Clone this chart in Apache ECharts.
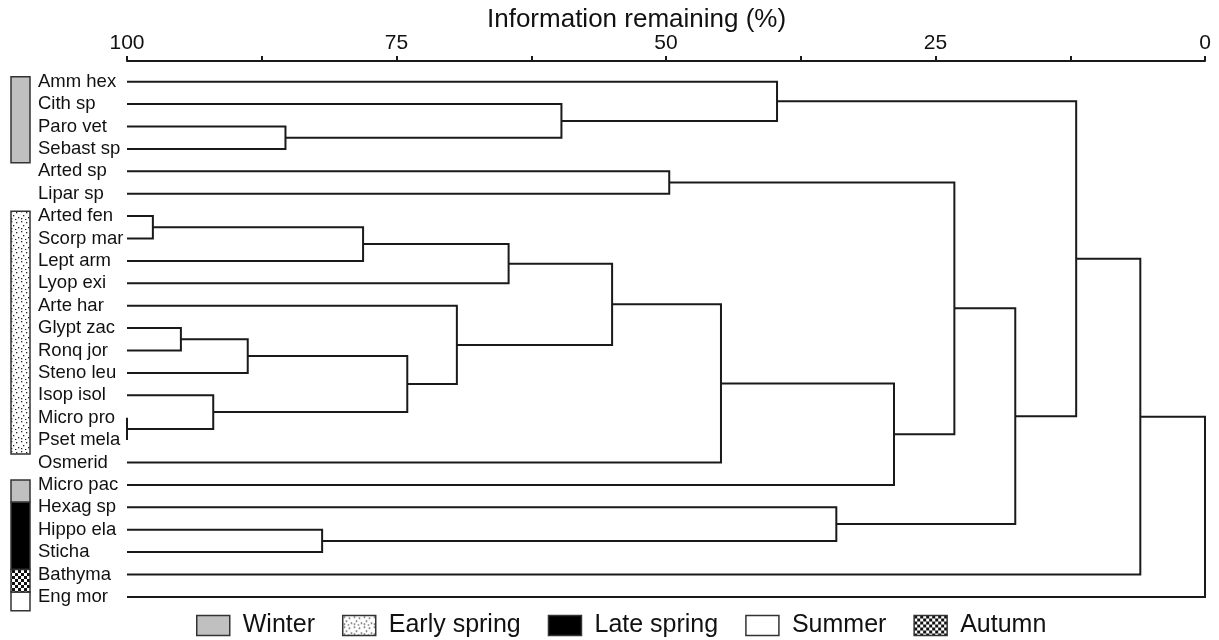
<!DOCTYPE html>
<html><head><meta charset="utf-8">
<script src="https://cdn.jsdelivr.net/npm/echarts@6/dist/echarts.min.js"></script>
<style>html,body{margin:0;padding:0;background:#fff}#chart{width:1219px;height:640px}</style>
</head><body><div id="chart"></div>
<script>
// ---- data ----
const leaves = ['Amm hex','Cith sp','Paro vet','Sebast sp','Arted sp','Lipar sp','Arted fen','Scorp mar','Lept arm','Lyop exi','Arte har','Glypt zac','Ronq jor','Steno leu','Isop isol','Micro pro','Pset mela','Osmerid','Micro pac','Hexag sp','Hippo ela','Sticha','Bathyma','Eng mor'];
const seasons = ['Winter','Winter','Winter','Winter',null,null,
  'Early spring','Early spring','Early spring','Early spring','Early spring','Early spring','Early spring','Early spring','Early spring','Early spring','Early spring',
  null,'Winter','Late spring','Late spring','Late spring','Autumn','Summer'];
const seasonNames = ['Winter','Early spring','Late spring','Summer','Autumn'];
// merge k creates node 'm'+(k+1)
const mergeLeft  = ['Paro vet','Cith sp','Amm hex','Arted sp','Arted fen','m5','m6','Glypt zac','m8','Micro pro','Isop isol','m9','Arte har','m7','m14','m15','m4','Hippo ela','Hexag sp','m17','m3','m21','m22'];
const mergeRight = ['Sebast sp','m1','m2','Lipar sp','Scorp mar','Lept arm','Lyop exi','Ronq jor','Steno leu','Pset mela','m10','m11','m12','m13','Osmerid','Micro pac','m16','Sticha','m18','m19','m20','Bathyma','Eng mor'];
const mergeHeight = [85.3,59.7,39.7,49.7,97.6,78.1,64.6,95.0,88.8,100,92.0,74.0,69.4,55.0,44.9,28.85,23.25,81.9,34.2,17.6,11.95,6.0,0];
const axisTicks = [100,75,50,25,0];

// ---- build links ----
const pos = {};
leaves.forEach((n,i)=>{ pos[n] = {y:i, h:100}; });
const links = mergeHeight.map((h,k)=>{
  const a = pos[mergeLeft[k]], b = pos[mergeRight[k]];
  pos['m'+(k+1)] = {y:(a.y+b.y)/2, h:h};
  return [a.h, a.y, h, b.y, b.h];
});

// ---- patterns ----
function stipple(){
  const c = document.createElement('canvas'); c.width = 10; c.height = 10;
  const g = c.getContext('2d'); g.fillStyle = '#fff'; g.fillRect(0,0,10,10);
  g.fillStyle = '#222';
  [[1,1],[6,2],[3,5],[8,7],[1,8],[5,9]].forEach(p=>g.fillRect(p[0],p[1],1.3,1.3));
  return {image:c, repeat:'repeat'};
}
function checker(){
  const c = document.createElement('canvas'); c.width = 6; c.height = 6;
  const g = c.getContext('2d'); g.fillStyle = '#fff'; g.fillRect(0,0,6,6);
  g.fillStyle = '#111'; g.fillRect(0,0,3,3); g.fillRect(3,3,3,3);
  return {image:c, repeat:'repeat'};
}
const fills = {'Winter':'#c0c0c0','Early spring':stipple(),'Late spring':'#000','Summer':'#fff','Autumn':checker()};

// season runs
const runs = [];
seasons.forEach((s,i)=>{
  if (!s) return;
  const last = runs[runs.length-1];
  if (last && last.season === s && last.end === i-1) last.end = i; else runs.push({season:s, start:i, end:i});
});
runs.forEach(r=>{ r.adj = seasons[r.end+1] ? 1 : 0; });

const FONT = "'Liberation Sans', Arial, Helvetica, sans-serif";
const chart = echarts.init(document.getElementById('chart'));

const seasonSeries = seasonNames.map(name=>({
  name, type:'custom', xAxisIndex:1, yAxisIndex:2, silent:true,
  itemStyle:{color:fills[name], borderColor:'#333', borderWidth:1.5},
  data: runs.filter(r=>r.season===name).map(r=>[r.start, r.end, r.adj]),
  renderItem:(params, api)=>{
    const s = api.value(0), e = api.value(1), adj = api.value(2);
    const top = api.coord([0, s-0.22])[1];
    const bot = api.coord([0, adj ? e+0.78 : e+0.62])[1];
    const x0 = api.coord([0,0])[0], x1 = api.coord([1,0])[0];
    return {type:'rect', shape:{x:x0, y:top, width:x1-x0, height:bot-top},
      style:{fill:fills[name], stroke:'#333', lineWidth:1.5}};
  }
}));

chart.setOption({
  animation:false,
  backgroundColor:'#fff',
  title:{text:'Information remaining (%)', left:487, top:7, padding:0,
    textStyle:{fontSize:26, fontWeight:'normal', color:'#111', fontFamily:FONT}},
  grid:[
    {left:127, right:14, top:70.5, height:537.6},
    {left:11, width:19, top:70.5, height:537.6}
  ],
  xAxis:[
    {type:'value', gridIndex:0, position:'top', inverse:true, min:0, max:100, interval:12.5, offset:9.5,
     axisLine:{show:true, onZero:false, lineStyle:{color:'#1a1a1a', width:2}},
     axisTick:{show:true, length:5, lineStyle:{color:'#1a1a1a', width:2}},
     axisLabel:{margin:7, fontSize:21, color:'#111', fontFamily:FONT,
       formatter:v=>axisTicks.includes(v) ? String(v) : ''},
     splitLine:{show:false}},
    {type:'value', gridIndex:1, min:0, max:1, show:false}
  ],
  yAxis:[
    {type:'value', gridIndex:0, min:-0.5, max:23.5, inverse:true, show:false, axisLine:{onZero:false}},
    {type:'category', gridIndex:0, data:leaves, inverse:true, position:'left',
     axisLine:{show:false}, axisTick:{show:false}, splitLine:{show:false},
     axisLabel:{align:'left', margin:89, fontSize:18.5, color:'#111', fontFamily:FONT, interval:0}},
    {type:'value', gridIndex:1, min:-0.5, max:23.5, inverse:true, show:false, axisLine:{onZero:false}}
  ],
  legend:{left:196, top:613, itemWidth:33, itemHeight:20, itemGap:27, padding:0, icon:'rect', selectedMode:false,
    textStyle:{fontSize:25, color:'#111', fontFamily:FONT, padding:[0,0,0,8]},
    data:seasonNames.map(n=>({name:n, itemStyle:{color:fills[n], borderColor:'#333', borderWidth:1.5}}))},
  series:[
    {type:'custom', name:'tree', xAxisIndex:0, yAxisIndex:0, silent:true, data:links,
     encode:{x:[0,2,4], y:[1,3]},
     renderItem:(params, api)=>{
       const y1 = api.value(1), y2 = api.value(3), h = api.value(2);
       const pts = [api.coord([api.value(0), y1]), api.coord([h, y1]), api.coord([h, y2]), api.coord([api.value(4), y2])];
       return {type:'polyline', shape:{points:pts}, style:{stroke:'#1a1a1a', lineWidth:2, fill:null}};
     }}
  ].concat(seasonSeries)
});
</script></body></html>
